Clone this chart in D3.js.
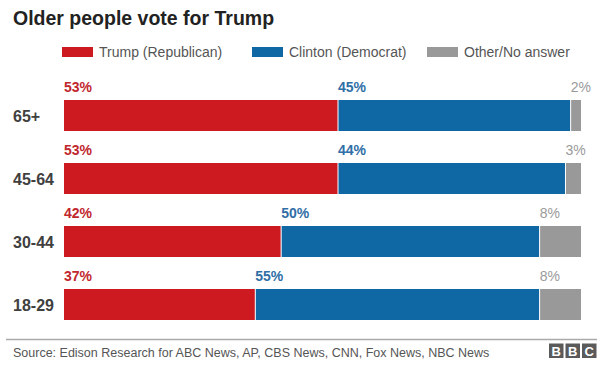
<!DOCTYPE html>
<html><head><meta charset="utf-8">
<script src="https://cdn.jsdelivr.net/npm/d3@7"></script>
<style>body{margin:0;background:#fff;}svg{display:block;font-family:"Liberation Sans",Arial,sans-serif;}</style>
</head><body>
<svg id="c" width="610" height="368"></svg>
<script>
const categories = ["65+", "45-64", "30-44", "18-29"];
const seriesNames = ["Trump (Republican)", "Clinton (Democrat)", "Other/No answer"];
const trump = [53, 53, 42, 37];
const clinton = [45, 44, 50, 55];
const other = [2, 3, 8, 8];
const title = "Older people vote for Trump";
const source = "Source: Edison Research for ABC News, AP, CBS News, CNN, Fox News, NBC News";

const barColors = ["#cd1a21", "#0f67a4", "#999999"];
const labelColors = ["#c1272d", "#2f6ea6", "#9a9a9a"];

const svg = d3.select("#c");
const rows = categories.map((c, i) => ({cat: c, vals: [trump[i], clinton[i], other[i]]}));

const x = d3.scaleLinear().domain([0, 100]).range([64, 581]);
const y = d3.scalePoint().domain(categories).range([100, 289]);
const bandH = 31;

svg.append("text").attr("x", 13).attr("y", 25).text(title)
  .attr("font-size", 19.5).attr("font-weight", "bold").attr("fill", "#222");

// legend
const legX = [62, 252, 427];
seriesNames.forEach((n, i) => {
  svg.append("rect").attr("x", legX[i]).attr("y", 47).attr("width", 31).attr("height", 10).attr("fill", barColors[i]);
  svg.append("text").attr("x", legX[i] + 37).attr("y", 57).text(n)
    .attr("font-size", 14).attr("fill", "#555");
});

const g = svg.append("g");
rows.forEach(r => {
  let acc = 0;
  const top = y(r.cat);
  r.vals.forEach((v, j) => {
    const x0 = x(acc), x1 = x(acc + v);
    g.append("rect").attr("x", x0).attr("y", top).attr("width", x1 - x0).attr("height", bandH)
      .attr("fill", barColors[j]);
    g.append("text").attr("x", x0).attr("y", top - 8).text(v + "%")
      .attr("font-size", 14).attr("font-weight", j < 2 ? "bold" : "normal").attr("fill", labelColors[j]);
    if (j > 0) g.append("line").attr("x1", x0).attr("x2", x0).attr("y1", top).attr("y2", top + bandH)
      .attr("stroke", "#fff").attr("stroke-width", 1);
    acc += v;
  });
  g.append("text").attr("x", 13).attr("y", top + bandH / 2 + 6).text(r.cat)
    .attr("font-size", 16).attr("font-weight", "bold").attr("fill", "#404040");
});

svg.append("line").attr("x1", 6).attr("x2", 597).attr("y1", 339.5).attr("y2", 339.5)
  .attr("stroke", "#aaa").attr("stroke-width", 1.5);
svg.append("text").attr("x", 13).attr("y", 357).text(source).attr("font-size", 12.5).attr("fill", "#555");

["B", "B", "C"].forEach((l, i) => {
  const bx = 549 + i * 16.5;
  svg.append("rect").attr("x", bx).attr("y", 343.5).attr("width", 14.5).attr("height", 14.5).attr("fill", "#5a5a5a");
  svg.append("text").attr("x", bx + 7.25).attr("y", 355.5).attr("text-anchor", "middle").text(l)
    .attr("font-size", 13).attr("font-weight", "bold").attr("fill", "#fff");
});
</script>
</body></html>
